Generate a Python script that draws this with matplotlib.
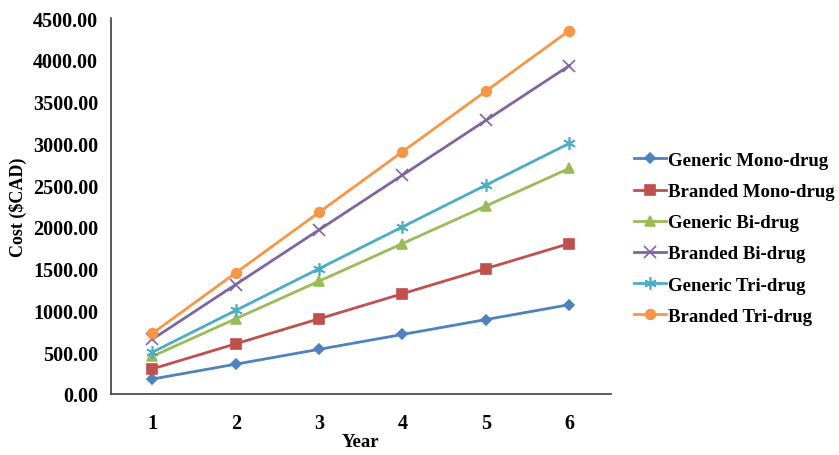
import numpy as np
import matplotlib.pyplot as plt

plt.rcParams['font.family'] = ['Liberation Serif', 'DejaVu Serif']
plt.rcParams['font.weight'] = 'bold'

years = [1, 2, 3, 4, 5, 6]
generic_mono = [178, 356, 534, 712, 890, 1068]
branded_mono = [300, 600, 900, 1200, 1500, 1800]
generic_bi = [450, 900, 1350, 1800, 2250, 2700]
branded_bi = [655, 1310, 1965, 2620, 3275, 3930]
generic_tri = [500, 1000, 1500, 2000, 2500, 3000]
branded_tri = [725, 1450, 2175, 2900, 3625, 4350]

series = [
    ("Generic Mono-drug", generic_mono, "#4F81BD", "D", 5.5),
    ("Branded Mono-drug", branded_mono, "#C0504D", "s", 6.5),
    ("Generic Bi-drug", generic_bi, "#9BBB59", "^", 7.5),
    ("Branded Bi-drug", branded_bi, "#8064A2", "x", 9),
    ("Generic Tri-drug", generic_tri, "#4BACC6", (6, 2, 0), 9),
    ("Branded Tri-drug", branded_tri, "#F79646", "o", 7),
]

fig = plt.figure(figsize=(8.39, 4.56), dpi=100)
ax = fig.add_axes([0.132, 0.134, 0.596, 0.824])

for name, vals, col, mk, ms in series:
    ax.plot(years, vals, color=col, lw=2, marker=mk, ms=ms,
            markeredgewidth=1.2, label=name)

ax.set_xlim(0.5, 6.5)
ax.set_ylim(0, 4500)
ax.set_xticks(years)
ax.set_yticks(np.arange(0, 4501, 500))
ax.set_yticklabels([f"{v:.2f}" for v in np.arange(0, 4501, 500)])
ax.tick_params(axis='y', length=0, labelsize=14.5, pad=9)
ax.tick_params(axis='x', length=0, labelsize=14.5, pad=14)
for lab in ax.get_xticklabels() + ax.get_yticklabels():
    lab.set_fontweight('bold')
ax.spines['top'].set_visible(False)
ax.spines['right'].set_visible(False)
ax.spines['left'].set_color('#404040')
ax.spines['bottom'].set_color('#404040')
ax.spines['left'].set_linewidth(1.2)
ax.spines['bottom'].set_linewidth(1.2)

ax.set_xlabel("Year", fontsize=13.5, fontweight='bold', labelpad=0)
ax.set_ylabel("Cost ($CAD)", fontsize=13, fontweight='bold', labelpad=4)

ax.legend(loc='center left', bbox_to_anchor=(1.016, 0.414), frameon=False,
          fontsize=13.5, handlelength=1.7, handletextpad=0.1,
          labelspacing=0.75, borderaxespad=0.4)

fig.savefig("out.png", dpi=100)
